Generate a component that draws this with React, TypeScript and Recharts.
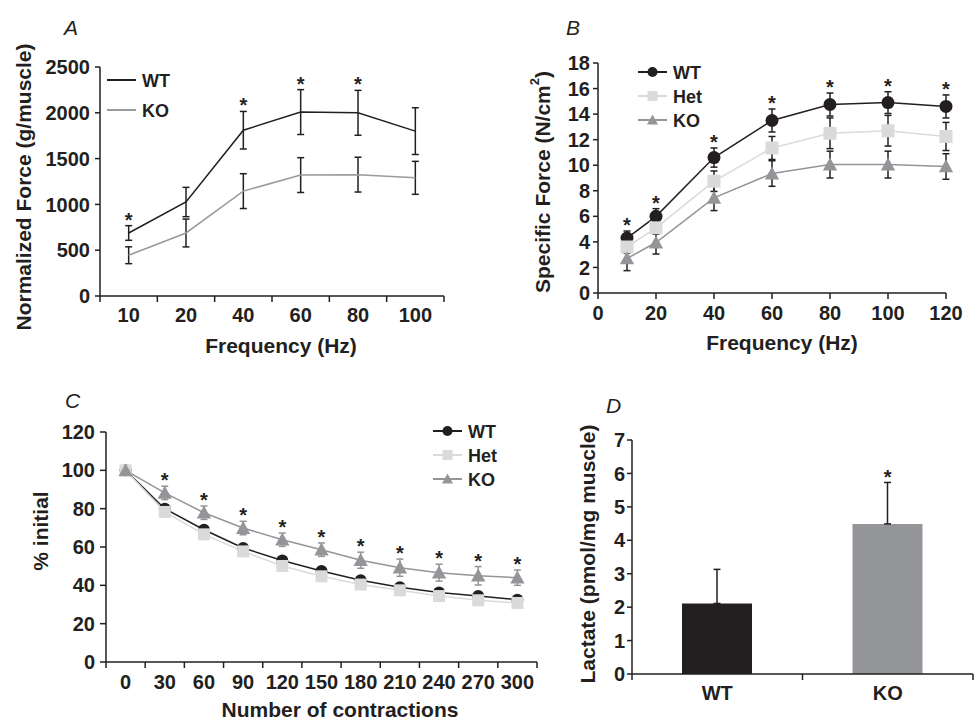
import React from "react";
import {
  Bar,
  Cell,
  ComposedChart,
  ErrorBar,
  Legend,
  Line,
  LineChart,
  XAxis,
  YAxis,
} from "recharts";

const FONT = '"Liberation Sans", Arial, Helvetica, sans-serif';
const INK = "#231f20";
const GRAY = "#939598";
const LIGHT = "#d9dadb";

// A: normalized force vs frequency
const freqA = ["10", "20", "40", "60", "80", "100"];
const wtA = [688, 1026, 1810, 2008, 2000, 1800];
const wtErrA = [80, 160, 205, 245, 245, 255];
const koA = [445, 688, 1145, 1320, 1325, 1290];
const koErrA = [92, 152, 190, 190, 190, 180];
const sigA = [true, false, true, true, true, false];

// B: specific force vs frequency
const freqB = [10, 20, 40, 60, 80, 100, 120];
const wtB = [4.3, 6.0, 10.6, 13.5, 14.75, 14.9, 14.6];
const wtErrB = [0.55, 0.6, 0.75, 0.9, 0.9, 0.85, 0.9];
const hetB = [3.6, 5.1, 8.75, 11.35, 12.5, 12.7, 12.25];
const hetErrB = [0.5, 0.5, 0.8, 0.9, 1.2, 1.2, 1.1];
const koB = [2.7, 3.95, 7.45, 9.35, 10.05, 10.05, 9.9];
const koErrB = [0.95, 0.9, 1.0, 1.0, 1.05, 1.05, 1.0];
const sigB = [true, true, true, true, true, true, true];

// C: fatigue
const contr = ["0", "30", "60", "90", "120", "150", "180", "210", "240", "270", "300"];
const wtC = [100, 80, 69, 59.5, 53, 47.5, 42.6, 39, 36.2, 34.4, 32.5];
const hetC = [100, 78.3, 66.6, 57.7, 50.1, 44.7, 40.4, 37.4, 34.4, 32.2, 30.8];
const koC = [100, 88.2, 77.9, 69.9, 63.8, 58.6, 53.1, 49.2, 46.6, 45, 44];
const koErrC = [0, 3.5, 3.5, 3.5, 3.5, 3.5, 4.2, 4.5, 4.4, 4.8, 4];
const sigC = [false, true, true, true, true, true, true, true, true, true, true];

// D: lactate
const groupsD = ["WT", "KO"];
const lactate = [2.11, 4.49];
const lactateErr = [1.02, 1.24];
const barColors = [INK, GRAY];
const sigD = [false, true];

const dataA = freqA.map((f, i) => ({
  freq: f,
  wt: wtA[i],
  wtErr: wtErrA[i],
  ko: koA[i],
  koErr: koErrA[i],
  star: sigA[i] ? wtA[i] + wtErrA[i] : null,
}));

const dataB = freqB.map((f, i) => ({
  freq: f,
  wt: wtB[i],
  wtErr: wtErrB[i],
  het: hetB[i],
  hetErr: hetErrB[i],
  ko: koB[i],
  koErr: koErrB[i],
  star: sigB[i] ? wtB[i] + wtErrB[i] : null,
}));

const dataC = contr.map((c, i) => ({
  n: c,
  wt: wtC[i],
  het: hetC[i],
  ko: koC[i],
  koErr: koErrC[i],
  star: sigC[i] ? koC[i] + koErrC[i] : null,
}));

const dataD = groupsD.map((g, i) => ({
  group: g,
  value: lactate[i],
  err: [0, lactateErr[i]],
  star: sigD[i] ? lactate[i] + lactateErr[i] : null,
}));

const tickStyle = { fill: INK, fontSize: 20, fontWeight: 700, fontFamily: FONT };
const axisStroke = { stroke: INK, strokeWidth: 1.5 };

type Shape = "circle" | "square" | "triangle";

function Marker({ shape, cx, cy, color, size }: { shape: Shape; cx: number; cy: number; color: string; size: number }) {
  const h = size / 2;
  if (shape === "circle") return <circle cx={cx} cy={cy} r={h} fill={color} />;
  if (shape === "square") return <rect x={cx - h} y={cy - h} width={size} height={size} fill={color} />;
  const t = h * 1.1;
  return <polygon points={`${cx},${cy - t} ${cx - t},${cy + h * 0.9} ${cx + t},${cy + h * 0.9}`} fill={color} />;
}

const dotOf = (shape: Shape, color: string, size: number) => (p: any) => {
  if (p.cx == null || p.cy == null) return <g key={`d${p.index}`} />;
  return <Marker key={`d${p.index}`} shape={shape} cx={p.cx} cy={p.cy} color={color} size={size} />;
};

const starDot = (lift: number) => (p: any) => {
  if (p.value == null || p.cx == null || p.cy == null) return <g key={`s${p.index}`} />;
  return (
    <text key={`s${p.index}`} x={p.cx} y={p.cy + lift} textAnchor="middle" fontSize={20} fontWeight={700} fontFamily={FONT} fill={INK}>
      *
    </text>
  );
};

// band-edge tick marks with the label in the middle of the band
const catTick = (band: number, count: number, dy: number) => (props: any) => {
  const { x, y, payload, index } = props;
  const l = x - band / 2;
  const r = x + band / 2;
  return (
    <g>
      <line x1={l} x2={l} y1={y} y2={y + 6} stroke={INK} strokeWidth={1.5} />
      {index === count - 1 ? <line x1={r} x2={r} y1={y} y2={y + 6} stroke={INK} strokeWidth={1.5} /> : null}
      <text x={x} y={y + dy} textAnchor="middle" {...tickStyle}>
        {payload.value}
      </text>
    </g>
  );
};

type Item = { name: string; color: string; shape?: Shape };

function LegendBox({ items, gap }: { items: Item[]; gap: number }) {
  return (
    <svg width={110} height={gap * items.length + 10} style={{ display: "block", overflow: "visible" }}>
      {items.map((it, i) => {
        const y = 14 + i * gap;
        return (
          <g key={it.name}>
            <line x1={8} x2={37} y1={y} y2={y} stroke={it.color} strokeWidth={2} />
            {it.shape ? <Marker shape={it.shape} cx={22.5} cy={y} color={it.color} size={10} /> : null}
            <text x={43} y={y + 6.5} fontSize={18} fontWeight={700} fontFamily={FONT} fill={INK}>
              {it.name}
            </text>
          </g>
        );
      })}
    </svg>
  );
}

function PanelA() {
  return (
    <LineChart width={490} height={360} data={dataA} margin={{ top: 67, right: 46, left: 0, bottom: 0 }}>
      <XAxis
        dataKey="freq"
        scale="band"
        height={64}
        interval={0}
        tickLine={false}
        tickSize={0}
        tickMargin={0}
        axisLine={axisStroke}
        tick={catTick(344 / 6, 6, 26)}
      />
      <YAxis
        width={100}
        domain={[0, 2500]}
        ticks={[0, 500, 1000, 1500, 2000, 2500]}
        interval={0}
        tickSize={5}
        tickMargin={5}
        tick={tickStyle}
        tickLine={axisStroke}
        axisLine={axisStroke}
      />
      <Legend
        layout="vertical"
        align="center"
        verticalAlign="middle"
        wrapperStyle={{ left: 99, top: 66, width: 110 }}
        content={() => (
          <LegendBox
            gap={30}
            items={[
              { name: "WT", color: INK },
              { name: "KO", color: "#9a9a9a" },
            ]}
          />
        )}
      />
      <Line dataKey="wt" stroke={INK} strokeWidth={1.5} dot={false} activeDot={false} isAnimationActive={false}>
        <ErrorBar dataKey="wtErr" direction="y" width={3.5} stroke={INK} strokeWidth={1.5} isAnimationActive={false} />
      </Line>
      <Line dataKey="ko" stroke="#9a9a9a" strokeWidth={1.5} dot={false} activeDot={false} isAnimationActive={false}>
        <ErrorBar dataKey="koErr" direction="y" width={3.5} stroke={INK} strokeWidth={1.5} isAnimationActive={false} />
      </Line>
      <Line dataKey="star" stroke="none" legendType="none" dot={starDot(1)} activeDot={false} isAnimationActive={false} />
    </LineChart>
  );
}

function PanelB() {
  return (
    <LineChart width={484} height={360} data={dataB} margin={{ top: 63, right: 28, left: 0, bottom: 0 }}>
      <XAxis
        dataKey="freq"
        type="number"
        domain={[0, 120]}
        ticks={[0, 20, 40, 60, 80, 100, 120]}
        interval={0}
        height={67}
        tickSize={6}
        tickMargin={7}
        tick={tickStyle}
        tickLine={axisStroke}
        axisLine={axisStroke}
      />
      <YAxis
        width={108}
        domain={[0, 18]}
        ticks={[0, 2, 4, 6, 8, 10, 12, 14, 16, 18]}
        interval={0}
        tickSize={5}
        tickMargin={3}
        tick={tickStyle}
        tickLine={axisStroke}
        axisLine={axisStroke}
      />
      <Legend
        layout="vertical"
        align="center"
        verticalAlign="middle"
        wrapperStyle={{ left: 140, top: 58, width: 110 }}
        content={() => (
          <LegendBox
            gap={24}
            items={[
              { name: "WT", color: INK, shape: "circle" },
              { name: "Het", color: LIGHT, shape: "square" },
              { name: "KO", color: GRAY, shape: "triangle" },
            ]}
          />
        )}
      />
      <Line dataKey="wt" stroke={INK} strokeWidth={1.5} dot={dotOf("circle", INK, 13)} activeDot={false} isAnimationActive={false}>
        <ErrorBar dataKey="wtErr" direction="y" width={3.5} stroke={INK} strokeWidth={1.5} isAnimationActive={false} />
      </Line>
      <Line dataKey="het" stroke={LIGHT} strokeWidth={1.5} dot={dotOf("square", LIGHT, 13)} activeDot={false} isAnimationActive={false}>
        <ErrorBar dataKey="hetErr" direction="y" width={3.5} stroke={INK} strokeWidth={1.5} isAnimationActive={false} />
      </Line>
      <Line dataKey="ko" stroke={GRAY} strokeWidth={1.5} dot={dotOf("triangle", GRAY, 13)} activeDot={false} isAnimationActive={false}>
        <ErrorBar dataKey="koErr" direction="y" width={3.5} stroke={INK} strokeWidth={1.5} isAnimationActive={false} />
      </Line>
      <Line dataKey="star" stroke="none" legendType="none" dot={starDot(1)} activeDot={false} isAnimationActive={false} />
    </LineChart>
  );
}

function PanelC() {
  return (
    <LineChart width={545} height={361} data={dataC} margin={{ top: 72, right: 8, left: 0, bottom: 0 }}>
      <XAxis
        dataKey="n"
        scale="band"
        height={59}
        interval={0}
        tickLine={false}
        tickSize={0}
        tickMargin={0}
        axisLine={axisStroke}
        tick={catTick(431 / 11, 11, 27)}
      />
      <YAxis
        width={106}
        domain={[0, 120]}
        ticks={[0, 20, 40, 60, 80, 100, 120]}
        interval={0}
        tickSize={6}
        tickMargin={5}
        tick={tickStyle}
        tickLine={axisStroke}
        axisLine={axisStroke}
      />
      <Legend
        layout="vertical"
        align="center"
        verticalAlign="middle"
        wrapperStyle={{ left: 425, top: 57, width: 110 }}
        content={() => (
          <LegendBox
            gap={24}
            items={[
              { name: "WT", color: INK, shape: "circle" },
              { name: "Het", color: LIGHT, shape: "square" },
              { name: "KO", color: GRAY, shape: "triangle" },
            ]}
          />
        )}
      />
      <Line dataKey="wt" stroke={INK} strokeWidth={1.5} dot={dotOf("circle", INK, 12)} activeDot={false} isAnimationActive={false} />
      <Line dataKey="het" stroke={LIGHT} strokeWidth={1.5} dot={dotOf("square", LIGHT, 12)} activeDot={false} isAnimationActive={false} />
      <Line dataKey="ko" stroke={GRAY} strokeWidth={1.5} dot={dotOf("triangle", GRAY, 13)} activeDot={false} isAnimationActive={false}>
        <ErrorBar dataKey="koErr" direction="y" width={3.5} stroke={GRAY} strokeWidth={1.5} isAnimationActive={false} />
      </Line>
      <Line dataKey="star" stroke="none" legendType="none" dot={starDot(1)} activeDot={false} isAnimationActive={false} />
    </LineChart>
  );
}

function PanelD() {
  return (
    <ComposedChart width={484} height={361} data={dataD} margin={{ top: 80, right: 1, left: 0, bottom: 0 }}>
      <XAxis
        dataKey="group"
        height={47}
        interval={0}
        tickLine={false}
        tickSize={0}
        tickMargin={0}
        axisLine={axisStroke}
        tick={catTick(341 / 2, 2, 26)}
      />
      <YAxis
        width={142}
        domain={[0, 7]}
        ticks={[0, 1, 2, 3, 4, 5, 6, 7]}
        interval={0}
        tickSize={5}
        tickMargin={2}
        tick={tickStyle}
        tickLine={axisStroke}
        axisLine={axisStroke}
      />
      <Bar dataKey="value" barSize={70} isAnimationActive={false}>
        {dataD.map((d, i) => (
          <Cell key={d.group} fill={barColors[i]} />
        ))}
        <ErrorBar dataKey="err" direction="y" width={3.5} stroke={INK} strokeWidth={1.5} isAnimationActive={false} />
      </Bar>
      <Line dataKey="star" stroke="none" legendType="none" dot={starDot(2)} activeDot={false} isAnimationActive={false} />
    </ComposedChart>
  );
}

const titleStyle = { fontFamily: FONT, fontSize: 21, fontStyle: "italic", fill: INK } as const;
const labelStyle = { fontFamily: FONT, fontSize: 21, fontWeight: 700, fill: INK } as const;

export default function App() {
  return (
    <div style={{ position: "absolute", left: 0, top: 0, width: 974, height: 721, background: "#fff", overflow: "hidden" }}>
      <div style={{ position: "absolute", left: 0, top: 0 }}>
        <PanelA />
      </div>
      <div style={{ position: "absolute", left: 490, top: 0 }}>
        <PanelB />
      </div>
      <div style={{ position: "absolute", left: 0, top: 360 }}>
        <PanelC />
      </div>
      <div style={{ position: "absolute", left: 490, top: 360 }}>
        <PanelD />
      </div>
      <svg width={974} height={721} style={{ position: "absolute", left: 0, top: 0, pointerEvents: "none" }}>
        <text x={64} y={35} {...titleStyle}>A</text>
        <text x={566} y={35} {...titleStyle}>B</text>
        <text x={65} y={408} {...titleStyle}>C</text>
        <text x={606} y={413} {...titleStyle}>D</text>

        <text x={23} y={187} textAnchor="middle" dominantBaseline="central" transform="rotate(-90 23 187)" {...labelStyle}>
          Normalized Force (g/muscle)
        </text>
        <text x={281} y={353} textAnchor="middle" {...labelStyle}>
          Frequency (Hz)
        </text>

        <text x={542} y={182} textAnchor="middle" dominantBaseline="central" transform="rotate(-90 542 182)" {...labelStyle}>
          Specific Force (N/cm<tspan dy={-8} fontSize={13}>2</tspan>
          <tspan dy={8}>)</tspan>
        </text>
        <text x={782} y={349.5} textAnchor="middle" {...labelStyle}>
          Frequency (Hz)
        </text>

        <text x={40} y={531} textAnchor="middle" dominantBaseline="central" transform="rotate(-90 40 531)" {...labelStyle}>
          % initial
        </text>
        <text x={340} y={716.5} textAnchor="middle" {...labelStyle}>
          Number of contractions
        </text>

        <text x={587} y={554} textAnchor="middle" dominantBaseline="central" transform="rotate(-90 587 554)" {...labelStyle}>
          Lactate (pmol/mg muscle)
        </text>
      </svg>
    </div>
  );
}
